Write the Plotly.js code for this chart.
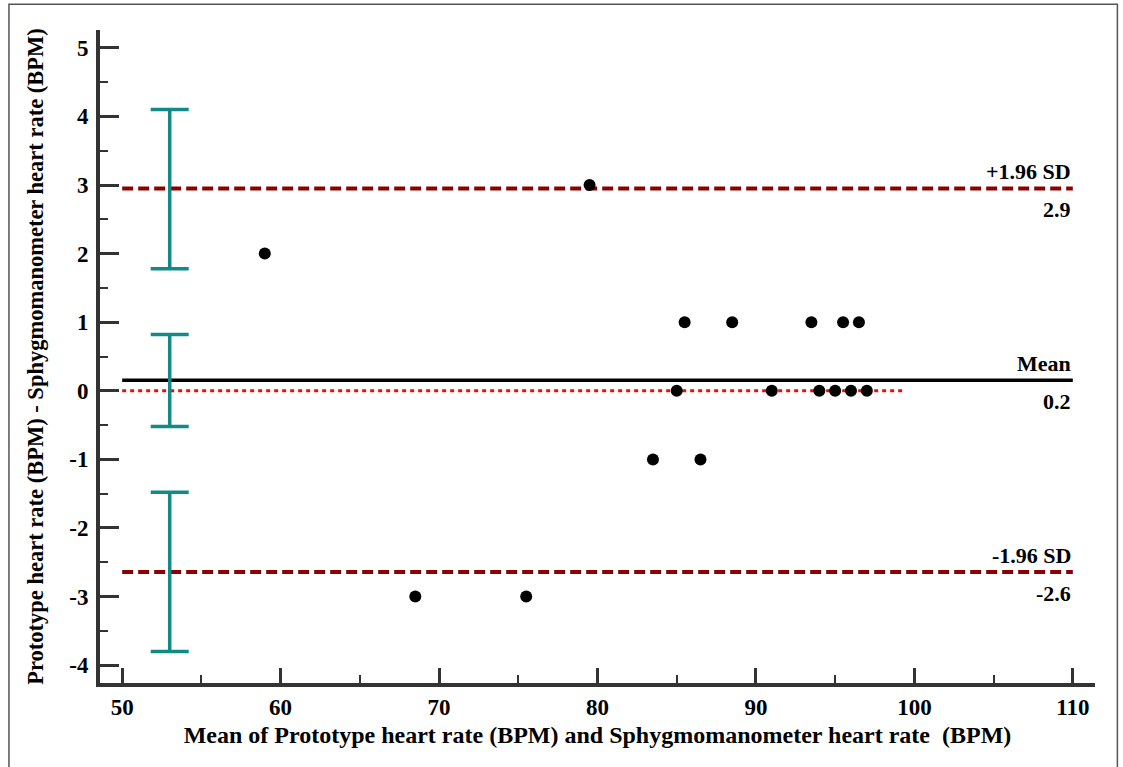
<!DOCTYPE html>
<html>
<head>
<meta charset="utf-8">
<script src="https://cdn.plot.ly/plotly-3.0.1.min.js"></script>
<style>html,body{margin:0;padding:0;background:#fff;}#chart{width:1123px;height:767px;}</style>
</head>
<body>
<div id="chart"></div>
<script>
// Bland-Altman data: mean of two methods (x) vs difference (y)
var meanVals = [59, 79.5, 85.5, 88.5, 93.5, 95.5, 96.5, 85, 91, 94, 95, 96, 97, 83.5, 86.5, 68.5, 75.5];
var diffVals = [2, 3, 1, 1, 1, 1, 1, 0, 0, 0, 0, 0, 0, -1, -1, -3, -3];

// Limits of agreement
var limitNames = ["+1.96 SD", "Mean", "-1.96 SD"];
var limitValues = [2.95, 0.155, -2.64];
var limitLabels = ["2.9", "0.2", "-2.6"];

// Confidence intervals of the limits (drawn at x = 53)
var ciX = [53, 53, 53];
var ciLow = [1.78, -0.52, -3.80];
var ciHigh = [4.10, 0.82, -1.48];

// Axis ticks
var xTickVals = [50, 60, 70, 80, 90, 100, 110];
var xTickText = ["50", "60", "70", "80", "90", "100", "110"];
var yTickVals = [-4, -3, -2, -1, 0, 1, 2, 3, 4, 5];
var yTickText = ["-4", "-3", "-2", "-1", "0", "1", "2", "3", "4", "5"];

var xRange = [50, 110];
var zeroLineEnd = 99.4;

var FONT = "Liberation Serif, Times New Roman, serif";

var traces = [];

// zero reference line (dotted red)
traces.push({x: [xRange[0], zeroLineEnd], y: [0, 0], mode: "lines",
  line: {color: "#e01010", width: 3, dash: "4px,4px"}, hoverinfo: "skip", showlegend: false});

// upper / lower limits (dashed dark red)
[0, 2].forEach(function (i) {
  traces.push({x: xRange, y: [limitValues[i], limitValues[i]], mode: "lines",
    line: {color: "#8b0000", width: 4, dash: "11px,5px"}, hoverinfo: "skip", showlegend: false});
});
// mean line (solid black)
traces.push({x: xRange, y: [limitValues[1], limitValues[1]], mode: "lines",
  line: {color: "#000", width: 3.5}, hoverinfo: "skip", showlegend: false});

// CI error bars
traces.push({x: ciX, y: limitValues, mode: "markers", marker: {size: 0.1, color: "rgba(0,0,0,0)"},
  error_y: {type: "data", symmetric: false,
    array: ciHigh.map(function (h, i) { return h - limitValues[i]; }),
    arrayminus: limitValues.map(function (v, i) { return v - ciLow[i]; }),
    color: "#138a87", thickness: 3.5, width: 19},
  hoverinfo: "skip", showlegend: false});

// data points
traces.push({x: meanVals, y: diffVals, mode: "markers",
  marker: {color: "#000", size: 12}, showlegend: false});

var annotations = [];
limitNames.forEach(function (n, i) {
  annotations.push({x: xRange[1], y: limitValues[i], xref: "x", yref: "y", text: n,
    xanchor: "right", yanchor: "bottom", yshift: 2, showarrow: false,
    font: {family: FONT, size: 22, color: "#000", weight: "bold"}});
  annotations.push({x: xRange[1], y: limitValues[i], xref: "x", yref: "y", text: limitLabels[i],
    xanchor: "right", yanchor: "top", yshift: -7, showarrow: false,
    font: {family: FONT, size: 22, color: "#000", weight: "bold"}});
});

var layout = {
  width: 1123, height: 767,
  margin: {l: 100, r: 28, t: 30, b: 84},
  paper_bgcolor: "#fff", plot_bgcolor: "#fff",
  showlegend: false,
  font: {family: FONT, color: "#000"},
  xaxis: {
    range: [48.6, 111.4], showgrid: false, zeroline: false,
    showline: true, linecolor: "#333", linewidth: 4,
    tickmode: "array", tickvals: xTickVals, ticktext: xTickText,
    ticks: "inside", ticklen: 15, tickwidth: 3, tickcolor: "#333",
    minor: {ticks: "inside", ticklen: 8, tickwidth: 2, tickcolor: "#333", dtick: 5, tick0: 50},
    tickfont: {family: FONT, size: 23, color: "#000", weight: "bold"},
    title: {text: "Mean of Prototype heart rate (BPM) and Sphygmomanometer heart rate&nbsp; (BPM)",
      font: {family: FONT, size: 24, color: "#000", weight: "bold"}, standoff: 9},
    automargin: false
  },
  yaxis: {
    range: [-4.26, 5.26], showgrid: false, zeroline: false,
    showline: true, linecolor: "#333", linewidth: 4,
    tickmode: "array", tickvals: yTickVals, ticktext: yTickText,
    ticks: "inside", ticklen: 19, tickwidth: 3, tickcolor: "#333",
    minor: {ticks: "inside", ticklen: 8, tickwidth: 2, tickcolor: "#333", dtick: 0.5, tick0: 0},
    tickfont: {family: FONT, size: 23, color: "#000", weight: "bold"},
    ticklabelstandoff: 3,
    title: {text: "Prototype heart rate (BPM) - Sphygmomanometer heart rate (BPM)",
      font: {family: FONT, size: 22.5, color: "#000", weight: "bold"}, standoff: 20},
    automargin: false
  },
  annotations: annotations,
  shapes: [{type: "rect", xref: "paper", yref: "paper",
    x0: -0.0915, x1: 1.0225, y0: -0.2, y1: 1.0395,
    line: {color: "#555", width: 1.5}, fillcolor: "rgba(0,0,0,0)", layer: "below"}]
};

Plotly.newPlot("chart", traces, layout, {displayModeBar: false, staticPlot: true});
</script>
</body>
</html>
